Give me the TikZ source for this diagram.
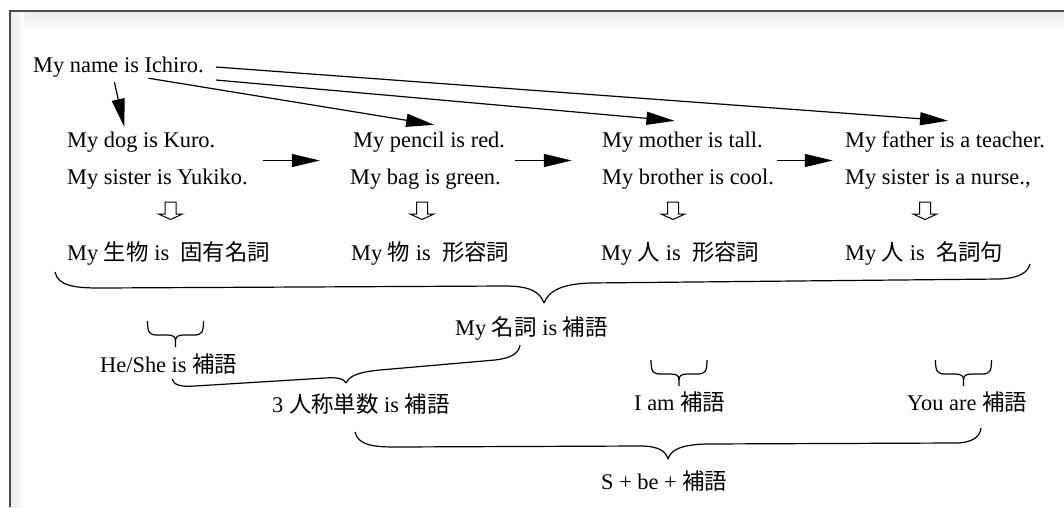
\documentclass[tikz,border=0pt]{standalone}
\usepackage{fontspec}
\setmainfont{Liberation Serif}
\newfontfamily\jp{Noto Sans CJK JP}
\usetikzlibrary{arrows.meta,fit}
\begin{document}
\begin{tikzpicture}[x=1pt,y=-1pt,
  txt/.style={anchor=base west, inner sep=0pt, text height=15pt, text depth=5pt, font=\fontsize{22.4}{26}\selectfont},
  arr/.style={-{Triangle[length=28pt,width=13pt]}, line width=1.2pt},
  grp/.style={inner sep=0pt},
  brace/.style={line width=1.2pt},
  harrow/.pic={\draw[line width=1pt] (-5.5,0) -- (-5.5,12) -- (-12,12) -- (0,17.5) -- (12,12) -- (5.5,12) -- (5.5,0) -- cycle;},
  sbrace/.pic={
    \draw[brace] (-28,0) .. controls (-28,12) and (-26,14) .. (-18,14) -- (-8,14) .. controls (-2,14) and (0,16) .. (0,20) -- (0,26);
    \draw[brace] (28,0) .. controls (28,12) and (26,14) .. (18,14) -- (8,14) .. controls (2,14) and (0,16) .. (0,20);
  }]
\useasboundingbox (0,0) rectangle (1064,507);
% frame
\shade[top color=black!8, bottom color=white] (10,11) rectangle (1064,32);
\shade[left color=black!8, right color=white] (10,11) rectangle (24,507);
\draw[line width=2pt, black!70] (9.5,507) -- (9.5,10.5) -- (1064,10.5);

% texts
\node[txt] (ichiro) at (33,72) {My name is Ichiro.};
\node[txt] (dog) at (67,147) {My dog is Kuro.};
\node[txt] (sisY) at (67,184) {My sister is Yukiko.};
\node[txt] (pencil) at (353,147) {My pencil is red.};
\node[txt] (bag) at (350,184) {My bag is green.};
\node[txt] (mother) at (602,147) {My mother is tall.};
\node[txt] (brother) at (602,184) {My brother is cool.};
\node[txt] (father) at (845,147) {My father is a teacher.};
\node[txt] (nurse) at (845,184) {My sister is a nurse.,};

\node[grp, fit=(dog)(sisY)] (g1) {};
\node[grp, fit=(pencil)(bag)] (g2) {};
\node[grp, fit=(mother)(brother)] (g3) {};
\node[grp, fit=(father)(nurse)] (g4) {};

\node[txt] (p1) at (67,260) {My {\jp 生物} is\ \ {\jp 固有名詞}};
\node[txt] (p2) at (351,260) {My {\jp 物} is\ \ {\jp 形容詞}};
\node[txt] (p3) at (601,260) {My {\jp 人} is\ \ {\jp 形容詞}};
\node[txt] (p4) at (845,260) {My {\jp 人} is\ \ {\jp 名詞句}};

\node[txt] (mymei) at (455,335) {My {\jp 名詞} is {\jp 補語}};
\node[txt] (heshe) at (100,372) {He/She is {\jp 補語}};
\node[txt] (third) at (272,412) {3 {\jp 人称単数} is {\jp 補語}};
\node[txt] (iam) at (634,410) {I am {\jp 補語}};
\node[txt] (youare) at (907,410) {You are {\jp 補語}};
\node[txt] (sbe) at (601,489) {S + be + {\jp 補語}};

% arrows from Ichiro
\draw[arr] ([xshift=-4pt,yshift=-5pt]ichiro.south) -- ([xshift=-17pt,yshift=5pt]dog.north);
\draw[arr] ([xshift=30pt,yshift=-1pt]ichiro.south) -- ([xshift=5pt,yshift=7pt]pencil.north);
\draw[arr] ([xshift=12pt,yshift=-13pt]ichiro.east) -- ([xshift=-8pt,yshift=11pt]mother.north);
\draw[arr] ([xshift=12pt]ichiro.east) -- ([xshift=3pt,yshift=11pt]father.north);

% arrows between groups
\draw[arr, shorten <=15pt, shorten >=30pt] (g1.east) -- (g2.west);
\draw[arr, shorten <=10pt, shorten >=30pt] (g2.east) -- (g3.west);
\draw[arr, shorten <=3pt, shorten >=12pt] (g3.east) -- (g4.west);

% hollow arrows
\pic at (170.5,202) {harrow};
\pic at (422,202) {harrow};
\pic at (673,202) {harrow};
\pic at (925,202) {harrow};

% big brace
\draw[brace] (55,272) .. controls (58,286) and (75,288) .. (100,288) -- (505,286) .. controls (530,286) and (540,292) .. (544,303);
\draw[brace] (544,303) .. controls (548,292) and (560,284) .. (590,283) -- (1000,279) .. controls (1020,278) and (1028,272) .. (1030,264);

% brace to 3rd person
\draw[brace] (172,379) .. controls (174,385) and (180,387) .. (195,386) -- (325,378) .. controls (338,377) and (344,379) .. (346,383);
\draw[brace] (346,383) .. controls (350,375) and (360,372) .. (380,370) -- (495,360) .. controls (512,358) and (519,353) .. (520,345);

% bottom brace
\draw[brace] (355,432) .. controls (358,444) and (370,447) .. (395,447) -- (640,446) .. controls (660,446) and (666,452) .. (668,459);
\draw[brace] (668,459) .. controls (671,450) and (680,445) .. (705,444) -- (955,443) .. controls (972,443) and (980,437) .. (981,428);

% small braces
\pic at (175.5,321) {sbrace};
\pic at (679,360) {sbrace};
\pic at (963.5,360) {sbrace};
\end{tikzpicture}
\end{document}
